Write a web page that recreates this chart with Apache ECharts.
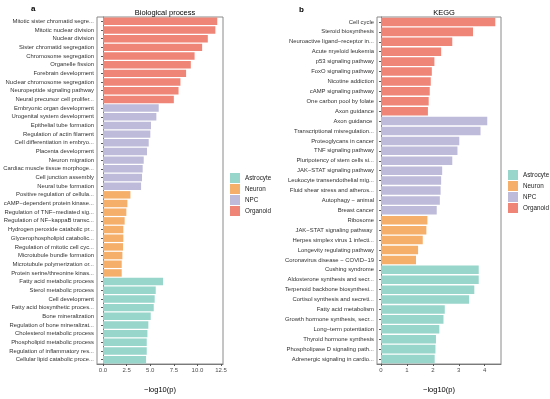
<!DOCTYPE html>
<html><head><meta charset="utf-8">
<script src="https://cdn.jsdelivr.net/npm/echarts@6/dist/echarts.min.js"></script>
<style>html,body{margin:0;padding:0;background:#fff}#c{width:550px;height:399px}</style>
</head><body><div id="c"></div>
<script>
const groups = ['Astrocyte','Neuron','NPC','Organoid'];
const colors = {Astrocyte:'#98D5CA', Neuron:'#F5AF6B', NPC:'#BEBBDA', Organoid:'#EF8577'};

// Panel a: Biological process
const bpOrganoidCats = ['Mitotic sister chromatid segre...','Mitotic nuclear division','Nuclear division','Sister chromatid segregation','Chromosome segregation','Organelle fission','Forebrain development','Nuclear chromosome segregation','Neuropeptide signaling pathway','Neural precursor cell prolifer...'];
const bpOrganoidVals = [12.1,11.9,11.1,10.5,9.7,9.3,8.8,8.2,8.0,7.5];
const bpNPCCats = ['Embryonic organ development','Urogenital system development','Epithelial tube formation','Regulation of actin filament','Cell differentiation in embryo...','Placenta development','Neuron migration','Cardiac muscle tissue morphoge...','Cell junction assembly','Neural tube formation'];
const bpNPCVals = [5.9,5.65,5.08,5.01,4.84,4.66,4.31,4.2,4.13,4.03];
const bpNeuronCats = ['Positive regulation of cellula...','cAMP−dependent protein kinase...','Regulation of TNF−mediated sig...','Regulation of NF−kappaB transc...','Hydrogen peroxide catabolic pr...','Glycerophospholipid catabolic...','Regulation of mitotic cell cyc...','Microtubule bundle formation','Microtubule polymerization or...','Protein serine/threonine kinas...'];
const bpNeuronVals = [2.9,2.58,2.47,2.29,2.15,2.15,2.12,2.05,1.98,1.98];
const bpAstroCats = ['Fatty acid metabolic process','Sterol metabolic process','Cell development','Fatty acid biosynthetic proces...','Bone mineralization','Regulation of bone mineralizat...','Cholesterol metabolic process','Phospholipid metabolic process','Regulation of inflammatory res...','Cellular lipid catabolic proce...'];
const bpAstroVals = [6.36,5.58,5.47,5.37,5.05,4.8,4.7,4.63,4.63,4.56];
const bpTicks = [0,2.5,5,7.5,10,12.5];
const bpTickLabels = ['0.0','2.5','5.0','7.5','10.0','12.5'];

// Panel b: KEGG
const kgOrganoidCats = ['Cell cycle','Steroid biosynthesis','Neuroactive ligand−receptor in...','Acute myeloid leukemia','p53 signaling pathway','FoxO signaling pathway','Nicotine addiction','cAMP signaling pathway','One carbon pool by folate','Axon guidance'];
const kgOrganoidVals = [4.41,3.55,2.75,2.32,2.06,1.96,1.92,1.88,1.84,1.81];
const kgNPCCats = ['Axon guidance ','Transcriptional misregulation...','Proteoglycans in cancer','TNF signaling pathway','Pluripotency of stem cells si...','JAK−STAT signaling pathway','Leukocyte transendothelial mig...','Fluid shear stress and atheros...','Autophagy − animal','Breast cancer'];
const kgNPCVals = [4.1,3.84,3.02,2.95,2.75,2.36,2.32,2.3,2.27,2.15];
const kgNeuronCats = ['Ribosome','JAK−STAT signaling pathway ','Herpes simplex virus 1 infecti...','Longevity regulating pathway','Coronavirus disease − COVID−19'];
const kgNeuronVals = [1.79,1.75,1.61,1.43,1.35];
const kgAstroCats = ['Cushing syndrome','Aldosterone synthesis and secr...','Terpenoid backbone biosynthesi...','Cortisol synthesis and secreti...','Fatty acid metabolism','Growth hormone synthesis, secr...','Long−term potentiation','Thyroid hormone synthesis','Phospholipase D signaling path...','Adrenergic signaling in cardio...'];
const kgAstroVals = [3.77,3.77,3.6,3.4,2.46,2.41,2.25,2.12,2.1,2.07];
const kgTicks = [0,1,2,3,4];
const kgTickLabels = ['0','1','2','3','4'];

function build(parts){
  const cats=[]; parts.forEach(p=>cats.push(...p[1]));
  const series={};
  let off=0;
  parts.forEach(p=>{
    const arr=new Array(cats.length).fill('-');
    p[2].forEach((v,i)=>arr[off+i]=v);
    off+=p[1].length;
    series[p[0]]=arr;
  });
  return {cats,series};
}
const bp = build([['Organoid',bpOrganoidCats,bpOrganoidVals],['NPC',bpNPCCats,bpNPCVals],['Neuron',bpNeuronCats,bpNeuronVals],['Astrocyte',bpAstroCats,bpAstroVals]]);
const kg = build([['Organoid',kgOrganoidCats,kgOrganoidVals],['NPC',kgNPCCats,kgNPCVals],['Neuron',kgNeuronCats,kgNeuronVals],['Astrocyte',kgAstroCats,kgAstroVals]]);

const FONT='Liberation Sans';
const axisCol='#7a7a7a';
function xAxisOf(idx,min,max,ticks,labels){
  return {type:'value',gridIndex:idx,min:min,max:max,
    splitLine:{show:false},
    axisLine:{show:true,onZero:false,lineStyle:{color:axisCol,width:1}},
    axisTick:{show:true,length:2,lineStyle:{color:'#555'},customValues:ticks},
    axisLabel:{fontFamily:FONT,fontSize:6,color:'#4d4d4d',margin:3,customValues:ticks,
      formatter:function(v){const i=ticks.indexOf(v);return i>=0?labels[i]:'';}},
    name:'−log10(p)',nameLocation:'middle',nameGap:22,
    nameTextStyle:{fontFamily:FONT,fontSize:7.5,color:'#000'}};
}
function yAxisOf(idx,cats){
  return {type:'category',gridIndex:idx,data:cats,inverse:true,
    axisLine:{show:true,lineStyle:{color:axisCol,width:1}},
    axisTick:{show:true,length:2,alignWithLabel:true,lineStyle:{color:'#555'}},
    axisLabel:{fontFamily:FONT,fontSize:5.9,color:'#333',margin:3,interval:0}};
}
const series=[];
[[0,bp],[1,kg]].forEach(([idx,d])=>{
  groups.forEach(g=>{
    series.push({type:'bar',name:g,xAxisIndex:idx,yAxisIndex:idx,stack:'s'+idx,
      data:d.series[g],barCategoryGap:'14%',itemStyle:{color:colors[g]},
      emphasis:{disabled:true},animation:false});
  });
});
const legendCommon={orient:'vertical',icon:'rect',itemWidth:10,itemHeight:10,itemGap:1,padding:0,
  textStyle:{fontFamily:FONT,fontSize:6.3,color:'#222'},data:groups,selectedMode:false};
const chart=echarts.init(document.getElementById('c'),null,{renderer:'canvas'});
chart.setOption({
  animation:false,
  textStyle:{fontFamily:FONT},
  grid:[
    {left:97,top:17,width:126,height:351,show:true,borderColor:'#8a8a8a',borderWidth:1,containLabel:false},
    {left:377,top:17,width:124,height:350,show:true,borderColor:'#8a8a8a',borderWidth:1,containLabel:false}
  ],
  xAxis:[xAxisOf(0,-0.64,12.71,bpTicks,bpTickLabels),xAxisOf(1,-0.155,4.63,kgTicks,kgTickLabels)],
  yAxis:[yAxisOf(0,bp.cats),yAxisOf(1,kg.cats)],
  legend:[
    Object.assign({},legendCommon,{left:230,top:173}),
    Object.assign({},legendCommon,{left:508,top:170})
  ],
  title:[
    {text:'Biological process',left:160,top:4,textAlign:'center',textStyle:{fontFamily:FONT,fontSize:7.5,fontWeight:'normal',color:'#000'}},
    {text:'KEGG',left:439,top:4,textAlign:'center',textStyle:{fontFamily:FONT,fontSize:7.5,fontWeight:'normal',color:'#000'}},
    {text:'a',left:26,top:0,textStyle:{fontFamily:FONT,fontSize:8,fontWeight:'bold',color:'#000'}},
    {text:'b',left:294,top:1,textStyle:{fontFamily:FONT,fontSize:8,fontWeight:'bold',color:'#000'}}
  ],
  series:series
});
</script></body></html>
